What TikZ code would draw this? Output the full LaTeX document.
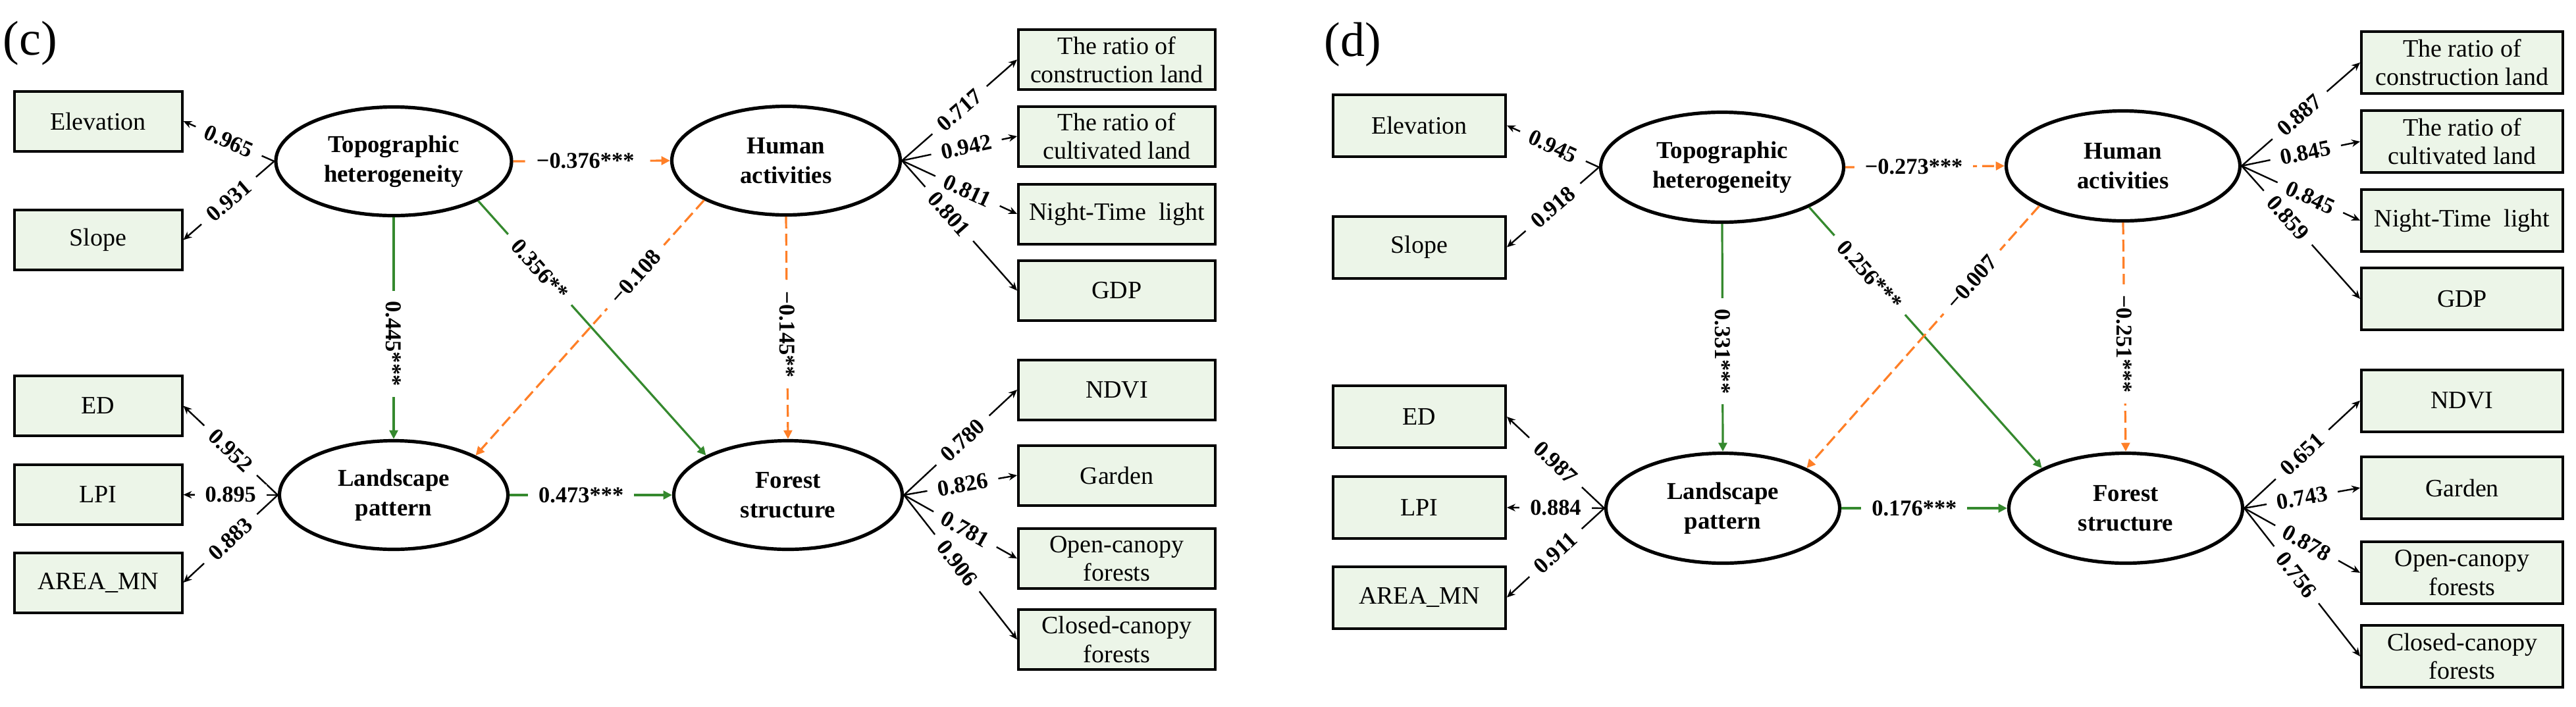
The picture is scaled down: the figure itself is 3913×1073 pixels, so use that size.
\documentclass[tikz,border=0pt]{standalone}
\usepackage{fontspec}
\setmainfont{Liberation Serif}
\usetikzlibrary{shapes, arrows.meta, positioning}
\definecolor{boxgreen}{RGB}{236, 245, 232}
\definecolor{pathgreen}{RGB}{53, 137, 46}
\definecolor{negorange}{RGB}{255, 127, 39}

\begin{document}
\begin{tikzpicture}[x=0.25pt, y=-0.25pt,
  latent/.style={ellipse, draw, line width=1.3pt, fill=white, align=center, inner sep=0pt, font=\fontsize{9.2}{11.2}\selectfont\bfseries},
  obsbox/.style={draw, line width=1pt, fill=boxgreen, align=center, inner sep=1pt, font=\fontsize{9.5}{10.8}\selectfont},
  load/.style={-{Stealth[length=3.2pt, width=2.8pt]}, line width=0.6pt},
  posarrow/.style={-{Triangle[length=3.3pt, width=3.2pt]}, draw=pathgreen, line width=0.8pt},
  negarrow/.style={-{Triangle[length=3.3pt, width=3.2pt]}, draw=negorange, line width=0.8pt, dash pattern=on 4.5pt off 2pt},
  coef/.style={fill=white, inner xsep=4pt, inner ysep=1pt, font=\fontsize{8.6}{10}\selectfont\bfseries},
  panel/.style={font=\fontsize{18.5}{22}\selectfont}]
  \useasboundingbox (0,0) rectangle (3913,1073);

  % Panel (c)
  \begin{scope}[latent/.append style={minimum width=86.75pt, minimum height=41.25pt},
    leftbox/.style={obsbox, minimum width=63.75pt, minimum height=22.75pt},
    rightbox/.style={obsbox, minimum width=74.75pt, minimum height=22.75pt}]
    \node[panel] (cLabel) at (46, 66) {(c)};

    % Latent variables
    \node[latent, minimum width=89.5pt] (cTH) at (598, 245) {Topographic\\heterogeneity};
    \node[latent] (cHA) at (1194, 244) {Human\\activities};
    \node[latent] (cLP) at (598, 752) {Landscape\\pattern};
    \node[latent] (cFS) at (1197, 752) {Forest\\structure};

    % Observed variables
    \node[leftbox] (cElev) at (149, 184) {Elevation};
    \node[leftbox] (cSlope) at (149, 364.5) {Slope};
    \node[leftbox] (cED) at (149, 616.5) {ED};
    \node[leftbox] (cLPI) at (149, 751.5) {LPI};
    \node[leftbox] (cArea) at (149, 885) {AREA\_MN};
    \node[rightbox] (cCons) at (1696.5, 90.5) {The ratio of\\construction land};
    \node[rightbox] (cCult) at (1696.5, 207) {The ratio of\\cultivated land};
    \node[rightbox] (cNTL) at (1696.5, 325) {Night-Time\ \ light};
    \node[rightbox] (cGDP) at (1696.5, 441.5) {GDP};
    \node[rightbox] (cNDVI) at (1696.5, 592) {NDVI};
    \node[rightbox] (cGarden) at (1696.5, 722) {Garden};
    \node[rightbox] (cOpen) at (1696.5, 848.5) {Open-canopy\\forests};
    \node[rightbox] (cClosed) at (1696.5, 971.5) {Closed-canopy\\forests};

    % Loadings
    \draw[load] (cTH.west) -- node[coef, sloped] {0.965} (cElev.east);
    \draw[load] (cTH.west) -- node[coef, sloped] {0.931} (cSlope.east);
    \draw[load] (cLP.west) -- node[coef, sloped] {0.952} (cED.east);
    \draw[load] (cLP.west) -- node[coef] {0.895} (cLPI.east);
    \draw[load] (cLP.west) -- node[coef, sloped] {0.883} (cArea.east);
    \draw[load] (cHA.east) -- node[coef, sloped, pos=0.5] {0.717} (cCons.west);
    \draw[load] (cHA.east) -- node[coef, sloped, pos=0.56] {0.942} (cCult.west);
    \draw[load] (cHA.east) -- node[coef, sloped, pos=0.57] {0.811} (cNTL.west);
    \draw[load] (cHA.east) -- node[coef, sloped, pos=0.41] {0.801} (cGDP.west);
    \draw[load] (cFS.east) -- node[coef, sloped, pos=0.52] {0.780} (cNDVI.west);
    \draw[load] (cFS.east) -- node[coef, sloped, pos=0.52] {0.826} (cGarden.west);
    \draw[load] (cFS.east) -- node[coef, sloped, pos=0.54] {0.781} (cOpen.west);
    \draw[load] (cFS.east) -- node[coef, sloped, pos=0.47] {0.906} (cClosed.west);

    % Structural paths
    \draw[negarrow] (cTH.east) -- node[coef, pos=0.46] {−0.376***} (cHA.west);
    \draw[posarrow] (cTH.south) -- node[coef, pos=0.57, rotate=-90] {0.445***} (cLP.north);
    \draw[posarrow] (cTH.south east) -- node[coef, sloped, pos=0.27] {0.356**} (cFS.north west);
    \draw[negarrow] (cHA.south west) -- node[coef, sloped, pos=0.3] {−0.108} (cLP.north east);
    \draw[negarrow] (cHA.south) -- node[coef, pos=0.53, rotate=-90] {−0.145**} (cFS.north);
    \draw[posarrow, line width=1.2pt] (cLP.east) -- node[coef, pos=0.44] {0.473***} (cFS.west);
  \end{scope}

  % Panel (d)
  \begin{scope}[latent/.append style={minimum width=88.75pt, minimum height=41.75pt},
    leftbox/.style={obsbox, minimum width=65.5pt, minimum height=23.5pt},
    rightbox/.style={obsbox, minimum width=76.5pt, minimum height=23.5pt}]
    \node[panel] (dLabel) at (2055, 68) {(d)};

    % Latent variables
    \node[latent, minimum width=92.25pt] (dTH) at (2616, 254) {Topographic\\heterogeneity};
    \node[latent] (dHA) at (3225, 252) {Human\\activities};
    \node[latent] (dLP) at (2617, 772) {Landscape\\pattern};
    \node[latent] (dFS) at (3229, 772) {Forest\\structure};

    % Observed variables
    \node[leftbox] (dElev) at (2156, 190.5) {Elevation};
    \node[leftbox] (dSlope) at (2156, 375.5) {Slope};
    \node[leftbox] (dED) at (2156, 633) {ED};
    \node[leftbox] (dLPI) at (2156, 771) {LPI};
    \node[leftbox] (dArea) at (2156, 907.5) {AREA\_MN};
    \node[rightbox] (dCons) at (3740, 95) {The ratio of\\construction land};
    \node[rightbox] (dCult) at (3740, 215) {The ratio of\\cultivated land};
    \node[rightbox] (dNTL) at (3740, 335) {Night-Time\ \ light};
    \node[rightbox] (dGDP) at (3740, 454) {GDP};
    \node[rightbox] (dNDVI) at (3740, 608.5) {NDVI};
    \node[rightbox] (dGarden) at (3740, 741) {Garden};
    \node[rightbox] (dOpen) at (3740, 870) {Open-canopy\\forests};
    \node[rightbox] (dClosed) at (3740, 997) {Closed-canopy\\forests};

    % Loadings
    \draw[load] (dTH.west) -- node[coef, sloped] {0.945} (dElev.east);
    \draw[load] (dTH.west) -- node[coef, sloped] {0.918} (dSlope.east);
    \draw[load] (dLP.west) -- node[coef, sloped] {0.987} (dED.east);
    \draw[load] (dLP.west) -- node[coef] {0.884} (dLPI.east);
    \draw[load] (dLP.west) -- node[coef, sloped] {0.911} (dArea.east);
    \draw[load] (dHA.east) -- node[coef, sloped, pos=0.49] {0.887} (dCons.west);
    \draw[load] (dHA.east) -- node[coef, sloped, pos=0.54] {0.845} (dCult.west);
    \draw[load] (dHA.east) -- node[coef, sloped, pos=0.58] {0.845} (dNTL.west);
    \draw[load] (dHA.east) -- node[coef, sloped, pos=0.39] {0.859} (dGDP.west);
    \draw[load] (dFS.east) -- node[coef, sloped, pos=0.5] {0.651} (dNDVI.west);
    \draw[load] (dFS.east) -- node[coef, sloped, pos=0.5] {0.743} (dGarden.west);
    \draw[load] (dFS.east) -- node[coef, sloped, pos=0.54] {0.878} (dOpen.west);
    \draw[load] (dFS.east) -- node[coef, sloped, pos=0.45] {0.756} (dClosed.west);

    % Structural paths
    \draw[negarrow] (dTH.east) -- node[coef, pos=0.43] {−0.273***} (dHA.west);
    \draw[posarrow] (dTH.south) -- node[coef, pos=0.56, rotate=-90] {0.331***} (dLP.north);
    \draw[posarrow] (dTH.south east) -- node[coef, sloped, pos=0.26] {0.256***} (dFS.north west);
    \draw[negarrow] (dHA.south west) -- node[coef, sloped, pos=0.29] {−0.007} (dLP.north east);
    \draw[negarrow] (dHA.south) -- node[coef, pos=0.53, rotate=-90] {−0.251***} (dFS.north);
    \draw[posarrow, line width=1.2pt] (dLP.east) -- node[coef, pos=0.44] {0.176***} (dFS.west);
  \end{scope}
\end{tikzpicture}
\end{document}
